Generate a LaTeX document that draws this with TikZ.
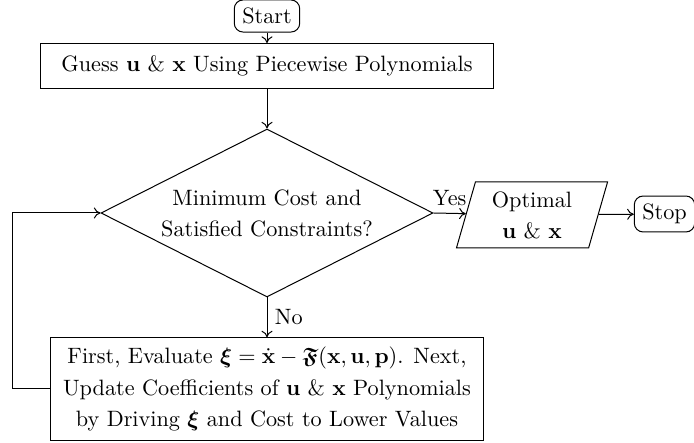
\documentclass[tikz,border=0pt]{standalone}
\usepackage{amsmath,amssymb,bm}
\usetikzlibrary{shapes.geometric,arrows.meta}
\begin{document}
\begin{tikzpicture}[x=0.45pt,y=-0.45pt,line width=0.45pt,
  term/.style={draw,rounded corners=4pt,inner sep=3.6pt},
  procbox/.style={draw,align=center},
  decision/.style={draw,diamond,inner sep=0pt,aspect=2,align=center,
    minimum width=149.4pt,minimum height=75.6pt},
  iobox/.style={draw,trapezium,trapezium left angle=73,trapezium right angle=107,
    trapezium stretches body,align=center,minimum height=29.7pt,minimum width=68pt},
  flow/.style={-{To[length=3pt,width=5pt]}}]
\useasboundingbox (0,0) rectangle (694,443);
\node[term] (start) at (267,16) {Start};
\node[procbox,minimum width=203.4pt,minimum height=20.25pt] (guess) at (267,66)
  {Guess $\mathbf{u}$ \& $\mathbf{x}$ Using Piecewise Polynomials};
\node[decision] (dec) at (267,213) {Minimum Cost and\\[2pt]Satisfied Constraints?};
\node[iobox] (opt) at (532,215) {Optimal\\[2pt]$\mathbf{u}$ \& $\mathbf{x}$};
\node[term] (stop) at (664.5,214) {Stop};
\node[procbox,minimum width=195pt,minimum height=46pt] (upd) at (267,389)
  {First, Evaluate $\bm{\xi}=\dot{\mathbf{x}}-\bm{\mathfrak{F}}(\mathbf{x},\mathbf{u},\mathbf{p})$. Next,\\[2.5pt]
   Update Coefficients of $\mathbf{u}$ \& $\mathbf{x}$ Polynomials\\[2pt]
   by Driving $\bm{\xi}$ and Cost to Lower Values};
\coordinate (loopx) at (12,0);
\draw[flow] (start) -- (guess);
\draw[flow] (guess) -- (dec);
\draw[flow] (dec.east) -- node[above] {Yes} (opt);
\draw[flow] (opt) -- (stop);
\draw[flow] (dec.south) -- node[right] {No} (upd);
\draw[flow] (upd.west) -- (upd.west -| loopx) |- (dec.west);
\end{tikzpicture}
\end{document}
